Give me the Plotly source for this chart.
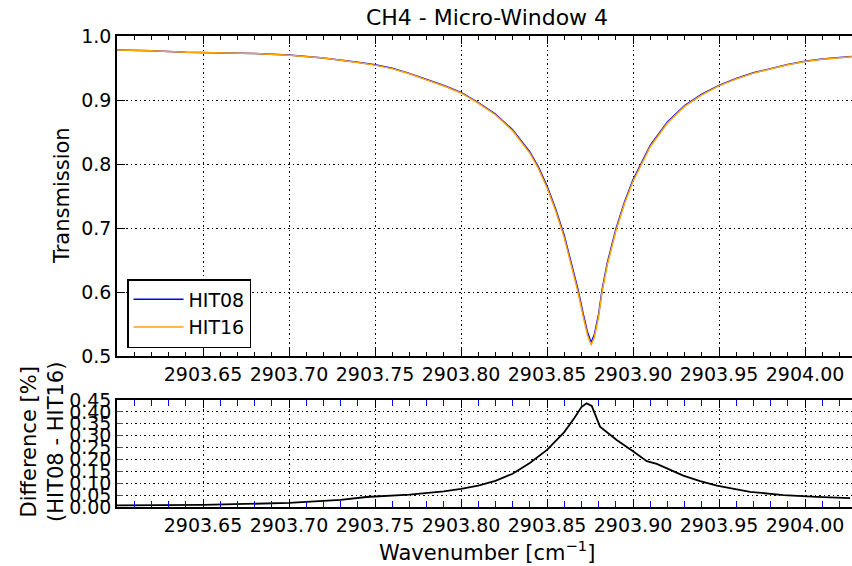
import plotly.graph_objects as go
from plotly.subplots import make_subplots

# Wavenumber grid [cm^-1] and transmission of the CH4 line for both HITRAN versions
wavenumber = [
    2903.600, 2903.620, 2903.640, 2903.660, 2903.680, 2903.700, 2903.720,
    2903.740, 2903.750, 2903.760, 2903.770, 2903.780, 2903.790, 2903.800,
    2903.810, 2903.820, 2903.830, 2903.840, 2903.845, 2903.850, 2903.855,
    2903.860, 2903.865, 2903.868, 2903.871, 2903.8735, 2903.8756, 2903.8775,
    2903.880, 2903.882, 2903.885, 2903.890, 2903.895, 2903.900, 2903.910,
    2903.920, 2903.930, 2903.940, 2903.950, 2903.960, 2903.970, 2903.980,
    2903.990, 2904.000, 2904.010, 2904.027,
]
hit16 = [
    0.9780, 0.9770, 0.9745, 0.9735, 0.9725, 0.9700, 0.9655,
    0.9585, 0.9545, 0.9490, 0.9410, 0.9315, 0.9220, 0.9110,
    0.8950, 0.8770, 0.8520, 0.8170, 0.7930, 0.7630, 0.7270,
    0.6850, 0.6340, 0.6000, 0.5620, 0.5330, 0.5170, 0.5290,
    0.5620, 0.6000, 0.6420, 0.6950, 0.7380, 0.7730, 0.8270,
    0.8640, 0.8900, 0.9080, 0.9220, 0.9330, 0.9420, 0.9490,
    0.9550, 0.9600, 0.9635, 0.9675,
]
hit08 = [
    0.9781, 0.9771, 0.9746, 0.9736, 0.9727, 0.9702, 0.9658,
    0.9589, 0.9549, 0.9495, 0.9415, 0.9321, 0.9227, 0.9118,
    0.8959, 0.8781, 0.8534, 0.8188, 0.7951, 0.7654, 0.7298,
    0.6882, 0.6377, 0.6040, 0.5663, 0.5374, 0.5212, 0.5330,
    0.5655, 0.6032, 0.6450, 0.6977, 0.7403, 0.7752, 0.8289,
    0.8656, 0.8913, 0.9091, 0.9229, 0.9337, 0.9426, 0.9495,
    0.9555, 0.9604, 0.9639, 0.9679,
]

# Difference HIT08 - HIT16 in percent
diff_wavenumber = [
    2903.600, 2903.650, 2903.700, 2903.730, 2903.745, 2903.750, 2903.770,
    2903.790, 2903.800, 2903.810, 2903.820, 2903.830, 2903.840, 2903.850,
    2903.860, 2903.866, 2903.870, 2903.873, 2903.876, 2903.8808, 2903.8905,
    2903.9002, 2903.908, 2903.9138, 2903.9196, 2903.9292, 2903.939,
    2903.9487, 2903.968, 2903.9874, 2904.0068, 2904.0262,
]
difference = [
    0.007, 0.009, 0.017, 0.030, 0.042, 0.044, 0.052,
    0.066, 0.076, 0.090, 0.110, 0.140, 0.185, 0.240,
    0.315, 0.375, 0.420, 0.436, 0.425, 0.338, 0.282,
    0.233, 0.193, 0.181, 0.163, 0.132, 0.109,
    0.090, 0.064, 0.050, 0.043, 0.037,
]

x_range = [2903.60, 2904.0273]
x_ticks = [2903.65, 2903.70, 2903.75, 2903.80, 2903.85, 2903.90, 2903.95, 2904.00]
x_ticklabels = ["%.2f" % v for v in x_ticks]
top_yticks = [0.5, 0.6, 0.7, 0.8, 0.9, 1.0]
bottom_yticks = [0.00, 0.05, 0.10, 0.15, 0.20, 0.25, 0.30, 0.35, 0.40, 0.45]

FONT = "DejaVu Sans"
W, H = 852, 566
L, R, T, B = 117, 0, 36, 59
plot_h = H - T - B
GRID_DASH = "1.5px,3px"

fig = make_subplots(rows=2, cols=1, shared_xaxes=False, vertical_spacing=0.0)

fig.add_trace(go.Scatter(x=wavenumber, y=hit08, mode="lines", name="HIT08",
                         line=dict(color="#0000ff", width=1.5)), row=1, col=1)
fig.add_trace(go.Scatter(x=wavenumber, y=hit16, mode="lines", name="HIT16",
                         line=dict(color="#ffa500", width=1.5)), row=1, col=1)
fig.add_trace(go.Scatter(x=diff_wavenumber, y=difference, mode="lines",
                         showlegend=False, line=dict(color="black", width=1.8)),
              row=2, col=1)

common_x = dict(
    range=x_range, tickmode="array", tickvals=x_ticks, ticktext=x_ticklabels,
    ticks="inside", ticklen=8, tickwidth=1, tickcolor="black",
    showline=True, linecolor="black", linewidth=1.5, mirror="allticks",
    showgrid=True, gridcolor="black", griddash=GRID_DASH, gridwidth=1,
    zeroline=False, tickfont=dict(family=FONT, size=19, color="black"),
)

top_dom = [(507 - 356) / plot_h, 1.0]
bot_dom = [0.0, (507 - 400) / plot_h]

fig.update_layout(
    xaxis=dict(**common_x, domain=[0, 1], anchor="y",
               minor=dict(dtick=0.01, tick0=2903.60, ticks="inside", ticklen=4,
                          tickcolor="black", showgrid=False)),
    yaxis=dict(domain=top_dom, range=[0.5, 1.0], anchor="x",
               tickmode="array", tickvals=top_yticks,
               ticktext=["%.1f" % v for v in top_yticks],
               ticks="inside", ticklen=8, tickcolor="black",
               showline=True, linecolor="black", linewidth=1.5,
               showgrid=True, gridcolor="black", griddash=GRID_DASH, gridwidth=1,
               zeroline=False, tickfont=dict(family=FONT, size=19, color="black")),
    xaxis2=dict(**common_x, domain=[0, 1], anchor="y2",
                minor=dict(dtick=0.01, tick0=2903.60, ticks="inside", ticklen=6,
                           tickcolor="#0000ff", showgrid=False)),
    yaxis2=dict(domain=bot_dom, range=[0.0, 0.45], anchor="x2",
                tickmode="array", tickvals=bottom_yticks,
                ticktext=["%.2f" % v for v in bottom_yticks],
                ticks="inside", ticklen=6, tickcolor="#555555",
                showline=True, linecolor="black", linewidth=1.5,
                showgrid=True, gridcolor="black", griddash=GRID_DASH, gridwidth=1,
                zeroline=False, tickfont=dict(family=FONT, size=19, color="black")),
)

fig.update_layout(
    width=W, height=H, autosize=False,
    margin=dict(l=L, r=R, t=T, b=B, pad=0),
    paper_bgcolor="white", plot_bgcolor="white",
    font=dict(family=FONT, color="black"),
    title=dict(text="CH4 - Micro-Window 4", x=(487 - L) / (W - L), xref="paper",
               xanchor="center", y=1 - 17 / H, yanchor="middle",
               font=dict(family=FONT, size=22, color="black")),
    legend=dict(x=10 / (W - L), y=(507 - 348) / plot_h, xanchor="left",
                yanchor="bottom", bgcolor="white", bordercolor="black",
                borderwidth=1.5, itemwidth=50,
                font=dict(family=FONT, size=19, color="black")),
    showlegend=True,
)

# Axis titles
fig.add_annotation(text="Transmission", xref="paper", yref="paper",
                   x=(62 - L) / (W - L), y=(507 - 196) / plot_h,
                   textangle=-90, showarrow=False, xanchor="center", yanchor="middle",
                   font=dict(family=FONT, size=21, color="black"))
fig.add_annotation(text="Difference [%]<br>(HIT08 - HIT16)", xref="paper", yref="paper",
                   x=(42 - L) / (W - L), y=(507 - 442) / plot_h,
                   textangle=-90, showarrow=False, xanchor="center", yanchor="middle",
                   font=dict(family=FONT, size=21, color="black"))
fig.add_annotation(text="Wavenumber [cm<sup>\u22121</sup>]", xref="paper", yref="paper",
                   x=(487 - L) / (W - L), y=-(551 - 507) / plot_h,
                   showarrow=False, xanchor="center", yanchor="middle",
                   font=dict(family=FONT, size=21, color="black"))

fig.write_html("out.html")
